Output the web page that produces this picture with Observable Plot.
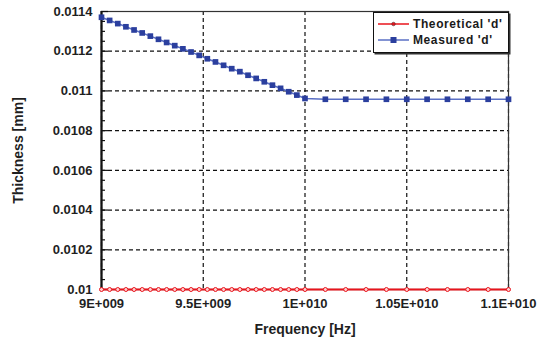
<!DOCTYPE html>
<html>
<head>
<meta charset="utf-8">
<script src="https://cdn.jsdelivr.net/npm/d3@7"></script>
<script src="https://cdn.jsdelivr.net/npm/@observablehq/plot@0.6"></script>
<style>
  html, body { margin: 0; padding: 0; background: #fff; }
  #wrap { position: relative; width: 543px; height: 341px; font-family: "Liberation Sans", Arial, sans-serif; }
  #legend { position: absolute; left: 373px; top: 12px; width: 134px; height: 39px; background: #fff;
            border: 1.5px solid #111; box-shadow: 1.5px 1.5px 0 #333; font-weight: bold; font-size: 12px; color: #1a1a1a; }
  .row { position: absolute; left: 4px; height: 16px; display: flex; align-items: center; }
  .row span { margin-left: 4px; letter-spacing: 0.6px; }
</style>
</head>
<body>
<div id="wrap">
  <div id="chart"></div>
  <div id="legend">
    <div class="row" style="top:3px"><svg width="31" height="10"><line x1="0" y1="5" x2="31" y2="5" stroke="#e8141c" stroke-width="1.5"/><circle cx="15.5" cy="5" r="1.8" fill="#e8141c" stroke="#333" stroke-width="0.5"/></svg><span>Theoretical 'd'</span></div>
    <div class="row" style="top:19px"><svg width="31" height="10"><line x1="0" y1="5" x2="31" y2="5" stroke="#5a6fc4" stroke-width="1.5"/><rect x="12.5" y="2" width="6" height="6" fill="#2b3f9e"/></svg><span>Measured 'd'</span></div>
  </div>
</div>
<script>
// Frequencies (Hz)
const freqs = [
  9.00e9, 9.04e9, 9.08e9, 9.12e9, 9.16e9, 9.20e9, 9.24e9, 9.28e9, 9.32e9, 9.36e9,
  9.40e9, 9.44e9, 9.48e9, 9.52e9, 9.56e9, 9.60e9, 9.64e9, 9.68e9, 9.72e9, 9.76e9,
  9.80e9, 9.84e9, 9.88e9, 9.92e9, 9.96e9, 1.00e10,
  1.01e10, 1.02e10, 1.03e10, 1.04e10, 1.05e10, 1.06e10, 1.07e10, 1.08e10, 1.09e10, 1.10e10
];
// Measured thickness (mm)
const measured = [
  0.011371, 0.011355, 0.011339, 0.011323, 0.011307, 0.011292, 0.011276, 0.011260, 0.011244, 0.011228,
  0.011212, 0.011196, 0.011179, 0.011162, 0.011146, 0.011129, 0.011112, 0.011097, 0.011079, 0.011063,
  0.011046, 0.011029, 0.011013, 0.010996, 0.010979, 0.010962,
  0.010958, 0.010958, 0.010958, 0.010958, 0.010958, 0.010958, 0.010958, 0.010958, 0.010958, 0.010958
];
// Theoretical thickness (mm) - drawn on the bottom of the axis
const theoretical = [
  0.01, 0.01, 0.01, 0.01, 0.01, 0.01, 0.01, 0.01, 0.01, 0.01,
  0.01, 0.01, 0.01, 0.01, 0.01, 0.01, 0.01, 0.01, 0.01, 0.01,
  0.01, 0.01, 0.01, 0.01, 0.01, 0.01,
  0.01, 0.01, 0.01, 0.01, 0.01, 0.01, 0.01, 0.01, 0.01, 0.01
];
const xTicks = [9.0e9, 9.5e9, 1.0e10, 1.05e10, 1.1e10];
const xTickLabels = ["9E+009", "9.5E+009", "1E+010", "1.05E+010", "1.1E+010"];
const yTicks = [0.01, 0.0102, 0.0104, 0.0106, 0.0108, 0.011, 0.0112, 0.0114];
const yTickLabels = ["0.01", "0.0102", "0.0104", "0.0106", "0.0108", "0.011", "0.0112", "0.0114"];
const yMinorTicks = [
  0.01005, 0.0101, 0.01015, 0.01025, 0.0103, 0.01035, 0.01045, 0.0105, 0.01055,
  0.01065, 0.0107, 0.01075, 0.01085, 0.0109, 0.01095, 0.01105, 0.0111, 0.01115,
  0.01125, 0.0113, 0.01135
];

const measData = freqs.map((f, i) => ({f, d: measured[i]}));
const theoData = freqs.map((f, i) => ({f, d: theoretical[i]}));

const chart = Plot.plot({
  width: 543,
  height: 341,
  marginLeft: 101,
  marginRight: 35,
  marginTop: 11,
  marginBottom: 52,
  style: {fontFamily: "'Liberation Sans', Arial, sans-serif", background: "#fff"},
  x: {domain: [9e9, 1.1e10]},
  y: {domain: [0.01, 0.0114]},
  marks: [
    Plot.gridX(xTicks, {stroke: "#111", strokeOpacity: 1, strokeDasharray: "4,3", strokeWidth: 1.2}),
    Plot.gridY(yTicks, {stroke: "#111", strokeOpacity: 1, strokeDasharray: "4,3", strokeWidth: 1.2}),
    Plot.frame({stroke: "#333", strokeWidth: 1.2}),
    Plot.axisY(yMinorTicks, {tickSize: -4, tickFormat: () => "", label: null, stroke: "#111", strokeWidth: 1.2}),
    Plot.axisY(yTicks, {tickSize: -7, tickPadding: 16, tickFormat: (d, i) => yTickLabels[i],
      fontSize: 13, fontWeight: "bold", fill: "#1f1f1f", label: "Thickness [mm]", labelAnchor: "center",
      labelArrow: "none", labelOffset: 88, stroke: "#111", strokeWidth: 1.2}),
    Plot.axisX(xTicks, {tickSize: 0, tickPadding: 9, tickFormat: (d, i) => xTickLabels[i],
      fontSize: 13, fontWeight: "bold", fill: "#1f1f1f", label: "Frequency [Hz]", labelAnchor: "center",
      labelOffset: 44, labelArrow: "none"}),
    Plot.ruleX([9e9], {stroke: "#111", strokeWidth: 2.2}),
    Plot.line(measData, {x: "f", y: "d", stroke: "#5a6fc4", strokeWidth: 1.6}),
    Plot.dot(measData, {x: "f", y: "d", symbol: "square", r: 3.2, fill: "#2b3f9e"}),
    Plot.line(theoData, {x: "f", y: "d", stroke: "#e8141c", strokeWidth: 2}),
    Plot.dot(theoData, {x: "f", y: "d", r: 2, fill: "#ffd0d0", stroke: "#e8141c", strokeWidth: 1})
  ]
});
document.getElementById("chart").appendChild(chart);
// style the axis labels
d3.select(chart).selectAll("[aria-label='y-axis label'] text, [aria-label='x-axis label'] text")
  .attr("font-size", 14).attr("font-weight", "bold").attr("fill", "#1f1f1f");
</script>
</body>
</html>
